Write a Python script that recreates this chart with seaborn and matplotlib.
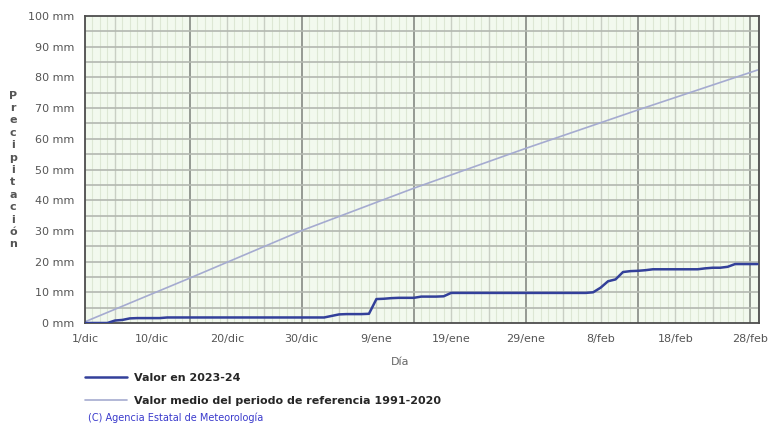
import pandas as pd
import numpy as np
import matplotlib
matplotlib.use("Agg")
import matplotlib.pyplot as plt
import seaborn as sns

sns.set_style("white")
plt.rcParams["font.family"] = ["DejaVu Sans"]

# Etiquetas del eje x (posiciones en días desde el 1/dic)
tick_dias = [0, 9, 19, 29, 39, 49, 59, 69, 79, 89]
tick_etiquetas = ["1/dic", "10/dic", "20/dic", "30/dic", "9/ene", "19/ene",
                  "29/ene", "8/feb", "18/feb", "28/feb"]

# Precipitación acumulada 2023-24 (mm), un valor por día del 1/dic al 29/feb
acum_2023_24 = (
    [0.0, 0.0, 0.0, 0.0, 0.8, 1.0, 1.5, 1.6, 1.6, 1.6, 1.6]
    + [1.8] * 22
    + [2.3, 2.8, 2.9, 2.9, 2.9, 3.0]
    + [7.8, 7.9, 8.1, 8.2, 8.2, 8.2]
    + [8.6, 8.6, 8.6, 8.7]
    + [9.8] * 19
    + [10.0, 11.5, 13.6, 14.2, 16.6, 16.9, 17.0, 17.2]
    + [17.5] * 7
    + [17.8, 18.0, 18.0, 18.3]
    + [19.2] * 4
)
dias = list(range(len(acum_2023_24)))

# Valor medio del periodo de referencia 1991-2020 (mm)
ref_dias = [0, 14, 29, 44, 59, 74, 90]
ref_valores = [0.4, 14.6, 30.1, 43.9, 56.9, 69.4, 82.4]

df_act = pd.DataFrame({"dia": dias, "mm": acum_2023_24})
df_ref = pd.DataFrame({"dia": ref_dias, "mm": ref_valores})

fig = plt.figure(figsize=(7.68, 4.25), dpi=100)
ax = fig.add_axes([85 / 768, 1 - 323 / 425, (759 - 85) / 768, (323 - 16) / 425])
ax.set_facecolor("#f2f9ee")

# Rejilla
for d in range(0, 91):
    if (d - 14) % 15 == 0:
        ax.axvline(d, color="#8e938c", lw=1.3, zorder=1)
    elif (d - 14) % 5 == 0:
        ax.axvline(d, color="#c9cfc4", lw=1.0, zorder=0.8)
    else:
        ax.axvline(d, color="#dde7d4", lw=0.8, zorder=0.5)
for y in range(5, 100, 5):
    ax.axhline(y, color="#b3b8b0", lw=1.2, zorder=1)

sns.lineplot(data=df_act, x="dia", y="mm", ax=ax, color="#33409a", lw=1.8,
             label="Valor en 2023-24", zorder=3)
sns.lineplot(data=df_ref, x="dia", y="mm", ax=ax, color="#a5abd0", lw=1.2,
             label="Valor medio del periodo de referencia 1991-2020", zorder=2)

ax.set_xlim(0, 90.2)
ax.set_ylim(0, 100)
ax.set_xticks(tick_dias)
ax.set_xticklabels(tick_etiquetas)
ax.set_yticks(range(0, 101, 10))
ax.set_yticklabels([f"{v} mm" for v in range(0, 101, 10)])
ax.tick_params(axis="both", labelsize=8, colors="#555555", length=4,
               width=0.8, direction="out", pad=4)
ax.set_xlabel("")
ax.set_ylabel("")
for s in ax.spines.values():
    s.set_color("#4d4d4d")
    s.set_linewidth(1.3)

handles, labels = ax.get_legend_handles_labels()
ax.get_legend().remove()
fig.legend(handles, labels, loc="upper left",
           bbox_to_anchor=(75 / 768, 1 - 363 / 425), frameon=False,
           prop={"weight": "bold", "size": 8}, handlelength=3.8,
           labelspacing=1.2, handletextpad=0.6)

fig.text(400 / 768, 1 - 362 / 425, "Día", ha="center", va="center",
         fontsize=8, color="#666666")
fig.text(13 / 768, 1 - 170 / 425, "\n".join("Precipitación"), ha="center",
         va="center", fontsize=8, fontweight="bold", color="#555555",
         linespacing=1.3)
fig.text(88 / 768, 1 - 418 / 425, "(C) Agencia Estatal de Meteorología",
         ha="left", va="center", fontsize=7, color="#3a3acc")

fig.savefig("out.png", dpi=100)
